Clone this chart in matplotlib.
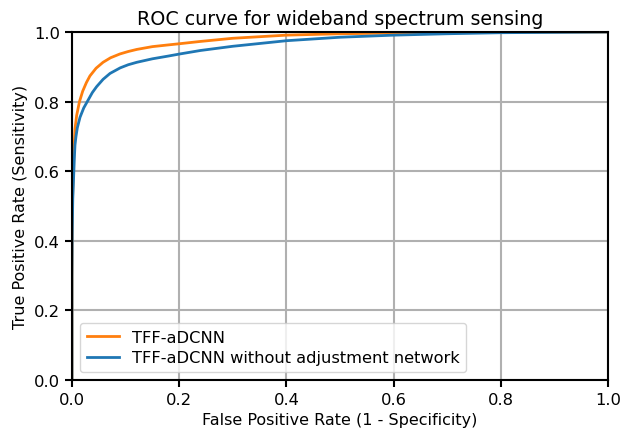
import matplotlib
matplotlib.use('Agg')
import matplotlib.pyplot as plt

# ROC points (FPR, TPR) for the full model
fpr_full = [0.0, 0.0, 0.0005, 0.001, 0.0025, 0.004, 0.0056, 0.0087, 0.014, 0.02, 0.027,
            0.0336, 0.045, 0.058, 0.072, 0.0896, 0.105, 0.121, 0.15, 0.18, 0.2015, 0.24,
            0.3, 0.4, 0.5, 0.6, 0.7, 0.8, 1.0]
tpr_full = [0.0, 0.3, 0.45, 0.52, 0.6, 0.67, 0.721, 0.76, 0.80, 0.83, 0.855,
            0.874, 0.896, 0.913, 0.926, 0.937, 0.944, 0.950, 0.958, 0.963, 0.9665, 0.973,
            0.982, 0.991, 0.995, 0.997, 0.999, 1.0, 1.0]

# ROC points for the model without the adjustment network
fpr_base = [0.0, 0.0, 0.0005, 0.0015, 0.003, 0.0045, 0.0056, 0.0075, 0.01, 0.015, 0.022,
            0.030, 0.038, 0.046, 0.058, 0.071, 0.09, 0.105, 0.121, 0.15, 0.18, 0.2015,
            0.24, 0.3, 0.4, 0.5, 0.6, 0.7, 0.8, 0.9, 1.0]
tpr_base = [0.0, 0.3, 0.42, 0.52, 0.58, 0.64, 0.675, 0.70, 0.725, 0.755, 0.782,
            0.804, 0.826, 0.843, 0.864, 0.881, 0.897, 0.906, 0.913, 0.923, 0.931, 0.937,
            0.947, 0.959, 0.975, 0.985, 0.991, 0.995, 0.998, 0.999, 1.0]

fig = plt.figure(figsize=(6.33, 4.31), dpi=100)
ax = fig.add_axes([0.1137, 0.116, 0.8468, 0.8074])

ax.plot(fpr_full, tpr_full, color='#ff7f0e', linewidth=2, label='TFF-aDCNN')
ax.plot(fpr_base, tpr_base, color='#1f77b4', linewidth=2,
        label='TFF-aDCNN without adjustment network')

ax.set_xlim(0, 1)
ax.set_ylim(0, 1)
ax.grid(True, color='#b0b0b0', linewidth=1.5)
for s in ax.spines.values():
    s.set_linewidth(1.5)
ax.tick_params(labelsize=11.8, width=1.5, length=5)
ax.set_xlabel('False Positive Rate (1 - Specificity)', fontsize=11.5)
ax.set_ylabel('True Positive Rate (Sensitivity)', fontsize=11.5)
ax.set_title('ROC curve for wideband spectrum sensing', fontsize=13.7)
ax.legend(loc='lower left', fontsize=11.7, labelspacing=0.35)

fig.savefig('out.png', dpi=100)
